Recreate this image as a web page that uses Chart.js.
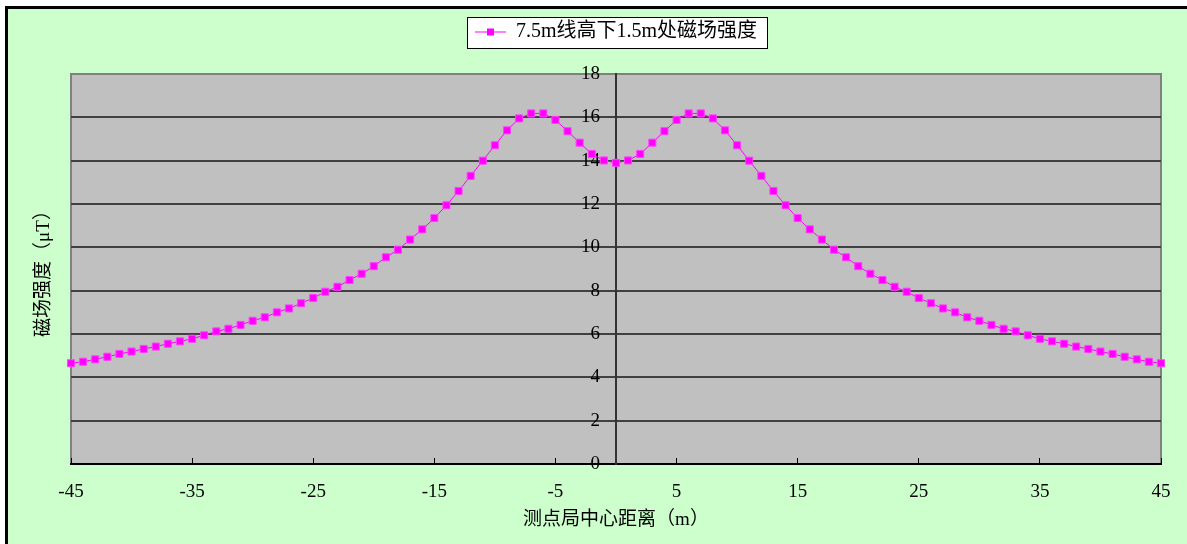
<!DOCTYPE html>
<html><head><meta charset="utf-8">
<script src="https://cdn.jsdelivr.net/npm/chart.js@4.4.1/dist/chart.umd.min.js"></script>
<style>
html,body{margin:0;padding:0;background:#fff;width:1187px;height:544px;overflow:hidden;}
#frame{position:absolute;left:5px;top:6px;width:1182px;height:538px;border-top:3px solid #000;border-left:3px solid #000;background:#CCFFCC;box-sizing:border-box;}
#c{position:absolute;left:0;top:0;}
</style></head><body>
<div id="frame"></div>
<canvas id="c" width="1187" height="544"></canvas>
<script>
// distance from line centre (m)
const distances = [-45,-44,-43,-42,-41,-40,-39,-38,-37,-36,-35,-34,-33,-32,-31,-30,-29,-28,-27,-26,-25,-24,-23,-22,-21,-20,-19,-18,-17,-16,-15,-14,-13,-12,-11,-10,-9,-8,-7,-6,-5,-4,-3,-2,-1,0,1,2,3,4,5,6,7,8,9,10,11,12,13,14,15,16,17,18,19,20,21,22,23,24,25,26,27,28,29,30,31,32,33,34,35,36,37,38,39,40,41,42,43,44,45];
// magnetic field strength (μT)
const fieldStrength = [4.65,4.72,4.83,4.95,5.08,5.19,5.31,5.42,5.55,5.66,
  5.78,5.94,6.12,6.24,6.42,6.61,6.77,7.00,7.18,7.42,
  7.66,7.95,8.18,8.49,8.78,9.13,9.54,9.89,10.36,10.83,
  11.35,11.94,12.60,13.30,14.00,14.71,15.40,15.95,16.18,16.18,
  15.88,15.36,14.83,14.31,14.01,13.90,
  14.01,14.31,14.83,15.36,15.88,16.18,16.18,15.95,15.40,14.71,
  14.00,13.30,12.60,11.94,11.35,10.83,10.36,9.89,9.54,9.13,
  8.78,8.49,8.18,7.95,7.66,7.42,7.18,7.00,6.77,6.61,
  6.42,6.24,6.12,5.94,5.78,5.66,5.55,5.42,5.31,5.19,
  5.08,4.95,4.83,4.72,4.65];
const xTickValues = [-45,-35,-25,-15,-5,5,15,25,35,45];
const yTickValues = [0,2,4,6,8,10,12,14,16,18];
const seriesLabel = '7.5m线高下1.5m处磁场强度';
const xTitle = '测点局中心距离（m）';
const yTitle = '磁场强度（μT）';

const FONT = "'Liberation Serif', 'Noto Sans CJK SC', serif";
Chart.defaults.font.family = FONT;
Chart.defaults.color = '#000';

// legend symbol: line with square marker
const mk = document.createElement('canvas');
mk.width = 31; mk.height = 9;
const m = mk.getContext('2d');
m.strokeStyle = '#FF00FF'; m.lineWidth = 1;
m.beginPath(); m.moveTo(0, 4.5); m.lineTo(31, 4.5); m.stroke();
m.fillStyle = '#FF00FF'; m.fillRect(12, 1, 7, 7);

const bgPlugin = {
  id: 'bg',
  beforeDraw(chart) {
    const {ctx, chartArea: a} = chart;
    ctx.save();
    ctx.fillStyle = '#C0C0C0';
    ctx.fillRect(a.left, a.top, a.right - a.left, a.bottom - a.top);
    ctx.strokeStyle = '#808080'; ctx.lineWidth = 2;
    ctx.strokeRect(a.left, a.top, a.right - a.left, a.bottom - a.top);
    const lg = chart.legend;
    if (lg && lg.legendHitBoxes && lg.legendHitBoxes.length) {
      const hb = lg.legendHitBoxes[0];
      const cy = hb.top + hb.height / 2;
      const x0 = Math.round(hb.left - 8), x1 = Math.round(hb.left + hb.width + 10);
      const y0 = Math.round(cy - 15);
      ctx.fillStyle = '#fff';
      ctx.fillRect(x0, y0, x1 - x0, 31);
      ctx.strokeStyle = '#000'; ctx.lineWidth = 1;
      ctx.strokeRect(x0 + 0.5, y0 + 0.5, x1 - x0, 31);
    }
    ctx.restore();
  }
};

new Chart(document.getElementById('c'), {
  type: 'line',
  data: {
    datasets: [{
      label: seriesLabel,
      data: distances.map((d, i) => ({x: d, y: fieldStrength[i]})),
      borderColor: '#FF00FF',
      backgroundColor: '#FF00FF',
      borderWidth: 1,
      pointStyle: 'rect',
      pointRadius: 5,
      pointBackgroundColor: '#FF00FF',
      pointBorderColor: '#FF40FF',
      pointBorderWidth: 1,
      tension: 0,
      clip: false,
      xAxisID: 'x',
      yAxisID: 'y'
    }]
  },
  options: {
    responsive: false,
    animation: false,
    events: [],
    devicePixelRatio: 1,
    layout: {padding: {top: 10, left: 0, right: 26, bottom: 0}},
    plugins: {
      tooltip: {enabled: false},
      legend: {
        position: 'top',
        fullSize: false,
        labels: {
          usePointStyle: true,
          pointStyle: mk,
          pointStyleWidth: 31,
          boxHeight: 20,
          padding: 12,
          color: '#000',
          font: {size: 20, family: FONT}
        }
      }
    },
    scales: {
      x: {
        type: 'linear', position: 'bottom', min: -45, max: 45,
        afterBuildTicks: s => { s.ticks = xTickValues.map(v => ({value: v})); },
        grid: {drawOnChartArea: false, drawTicks: true, tickLength: -6, color: '#000', lineWidth: 1},
        border: {display: true, color: '#000', width: 2},
        ticks: {padding: 22.6, color: '#000', font: {size: 19}, maxRotation: 0, autoSkip: false},
        title: {display: true, text: xTitle, color: '#000', font: {size: 19}, padding: {top: 0, bottom: 12.6}},
        afterFit: s => { s.height = 80; s.paddingLeft = 0; s.paddingRight = 0; }
      },
      xTop: {
        type: 'linear', position: 'top', min: -45, max: 45, display: true,
        ticks: {display: false}, grid: {display: false}, border: {display: false},
        afterFit: s => { s.height = 22; s.paddingLeft = 0; s.paddingRight = 0; }
      },
      y: {
        type: 'linear', position: 'center', min: 0, max: 18,
        afterBuildTicks: s => { s.ticks = yTickValues.map(v => ({value: v})); },
        grid: {
          color: c => (c.tick && (c.tick.value === 0 || c.tick.value === 18)) ? 'rgba(0,0,0,0)' : '#404040',
          lineWidth: 2, drawTicks: false
        },
        border: {display: true, color: '#333', width: 2},
        ticks: {padding: 16, color: '#000', font: {size: 19}}
      },
      y2: {
        type: 'linear', position: 'left', min: 0, max: 18, display: true,
        ticks: {display: false}, grid: {display: false}, border: {display: false},
        title: {display: true, text: yTitle, color: '#000', font: {size: 19}, padding: {top: 33, bottom: 0}},
        afterFit: s => { s.width = 71; }
      }
    }
  },
  plugins: [bgPlugin]
});
</script>
</body></html>
